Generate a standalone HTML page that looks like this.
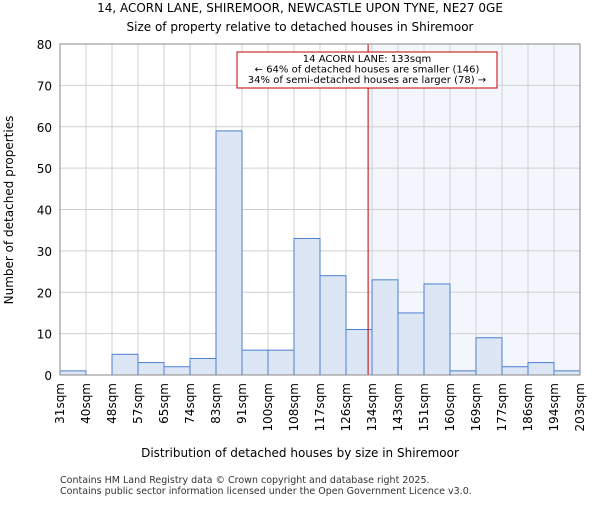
<!DOCTYPE html>
<html><head><meta charset="utf-8"><style>body{margin:0;background:#fff}svg{font-family:"DejaVu Sans","Liberation Sans",sans-serif}</style></head>
<body>
<svg width="600" height="500" id="c">
<text x="300" y="12" text-anchor="middle" font-size="12">14, ACORN LANE, SHIREMOOR, NEWCASTLE UPON TYNE, NE27 0GE</text>
<text x="300" y="31" text-anchor="middle" font-size="12">Size of property relative to detached houses in Shiremoor</text>
<g id="grid"></g><g id="bars"></g><g id="axes"></g>
<text x="300" y="457" text-anchor="middle" font-size="12">Distribution of detached houses by size in Shiremoor</text>
<text transform="translate(13,210) rotate(-90)" text-anchor="middle" font-size="12">Number of detached properties</text>
<text x="60" y="483" font-size="9.5" fill="#333">Contains HM Land Registry data © Crown copyright and database right 2025.</text>
<text x="60" y="494" font-size="9.5" fill="#333">Contains public sector information licensed under the Open Government Licence v3.0.</text>
</svg>
<script>
const edgeLabels=["31sqm","40sqm","48sqm","57sqm","65sqm","74sqm","83sqm","91sqm","100sqm","108sqm","117sqm","126sqm","134sqm","143sqm","151sqm","160sqm","169sqm","177sqm","186sqm","194sqm","203sqm"];
const counts=[1,0,5,3,2,4,59,6,6,33,24,11,23,15,22,1,9,2,3,1];
const yTicks=[0,10,20,30,40,50,60,70,80];
const propertyBinPos=11.85;
const NS="http://www.w3.org/2000/svg";
const L=60,R=580,T=44,B=375,yMax=80;
const bw=(R-L)/counts.length;
const xs=i=>L+i*bw, ys=v=>B-(B-T)*v/yMax;
function mk(t,a,p){const e=document.createElementNS(NS,t);for(const k in a)e.setAttribute(k,a[k]);p.appendChild(e);return e;}
const g=document.getElementById('grid'),bg=document.getElementById('bars'),ax=document.getElementById('axes');
const px=xs(propertyBinPos);
const hl=mk('rect',{x:px,y:T,width:R-px,height:B-T,fill:'#f3f6fd'},g);


yTicks.forEach(v=>{const l=mk('line',{x1:L,x2:R,y1:ys(v),y2:ys(v),stroke:'#d0d0d0'},g);


const t=mk('text',{x:L-8,y:ys(v)+5,'text-anchor':'end','font-size':12},ax);t.textContent=v;

});
edgeLabels.forEach((s,i)=>{const l=mk('line',{x1:xs(i),x2:xs(i),y1:T,y2:B,stroke:'#d0d0d0'},g);


const t=mk('text',{transform:`translate(${xs(i)+4},${B+8}) rotate(-90)`,'text-anchor':'end','font-size':12},ax);t.textContent=s;

});
counts.forEach((v,i)=>{const r=mk('rect',{x:xs(i),y:ys(v),width:bw,height:B-ys(v),fill:'#dde6f5',stroke:'#4a7fd0','stroke-width':1},bg);

});
const rl=mk('line',{x1:px,x2:px,y1:T,y2:B,stroke:'#c00000','stroke-width':1},ax);


const box=mk('rect',{x:237,y:52,width:260,height:36,fill:'#fff',stroke:'#c00000'},ax);


["14 ACORN LANE: 133sqm","← 64% of detached houses are smaller (146)","34% of semi-detached houses are larger (78) →"].forEach((s,i)=>{const t=mk('text',{x:367,y:62+i*10.5,'text-anchor':'middle','font-size':10},ax);t.textContent=s;

});
const fr=mk('rect',{x:L,y:T,width:R-L,height:B-T,fill:'none',stroke:'#888'},ax);


</script>
</body></html>
